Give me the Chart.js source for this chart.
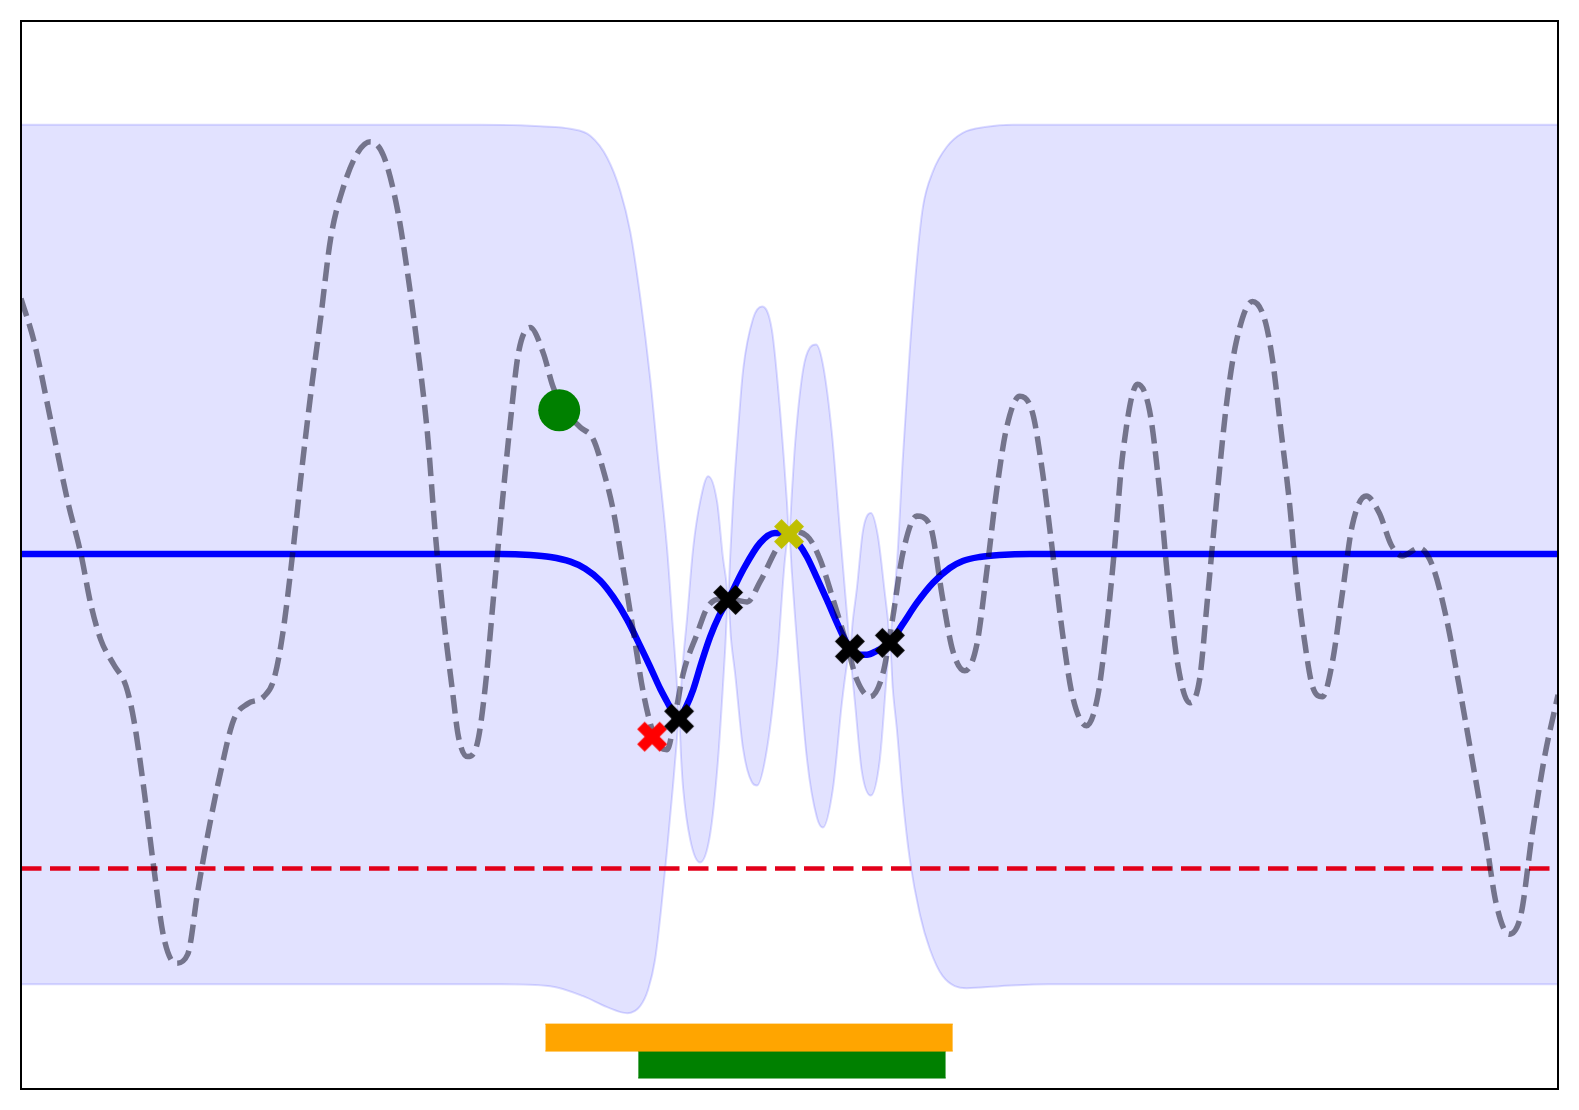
<!DOCTYPE html>
<html>
<head>
<meta charset="utf-8">
<script src="https://cdn.jsdelivr.net/npm/chart.js@4.4.1/dist/chart.umd.min.js"></script>
<style>
html,body{margin:0;padding:0;background:#fff;}
canvas{display:block;}
</style>
</head>
<body>
<canvas id="c" width="1579" height="1110"></canvas>
<script>
// ---------- data ----------
const xRange = [0, 10.26];
const yRange = [-5.36, 5.34];

// true (hidden) function, dashed gray
const trueX = [0, 0.087, 0.20, 0.313, 0.40, 0.467, 0.533, 0.62, 0.70, 0.753,
 0.82, 0.887, 0.953, 1.033, 1.113, 1.18, 1.247, 1.333, 1.42, 1.513,
 1.62, 1.687, 1.747, 1.813, 1.867, 1.933, 2.00, 2.067, 2.153, 2.247,
 2.333, 2.42, 2.513, 2.58, 2.647, 2.713, 2.767, 2.82, 2.88, 2.92,
 2.98, 3.047, 3.10, 3.153, 3.213, 3.267, 3.32, 3.40, 3.487, 3.553,
 3.64, 3.733, 3.82, 3.887, 3.953, 4.02, 4.087, 4.153, 4.213, 4.267,
 4.313, 4.367, 4.42, 4.513, 4.58, 4.667, 4.767, 4.847, 4.933, 5.047,
 5.133, 5.247, 5.333, 5.42, 5.513, 5.58, 5.667, 5.753, 5.82, 5.887,
 5.98, 6.067, 6.153, 6.22, 6.30, 6.38, 6.447, 6.513, 6.58, 6.667,
 6.753, 6.82, 6.887, 6.953, 7.02, 7.113, 7.187, 7.247, 7.30, 7.353,
 7.453, 7.533, 7.60, 7.653, 7.72, 7.80, 7.867, 7.92, 7.98, 8.047,
 8.113, 8.22, 8.30, 8.353, 8.413, 8.467, 8.513, 8.567, 8.62, 8.687,
 8.753, 8.82, 8.887, 8.98, 9.067, 9.147, 9.22, 9.333, 9.42, 9.513,
 9.60, 9.687, 9.78, 9.847, 9.933, 10.013, 10.087, 10.167, 10.26];
const trueY = [2.56, 2.13, 1.33, 0.52, 0.00, -0.51, -0.86, -1.11, -1.32, -1.66,
 -2.35, -3.15, -3.84, -4.10, -4.01, -3.38, -2.81, -2.18, -1.66, -1.50,
 -1.43, -1.26, -0.80, 0.00, 0.75, 1.59, 2.36, 3.16, 3.68, 4.02,
 4.13, 3.99, 3.45, 2.82, 2.07, 1.21, 0.18, -0.63, -1.37, -1.83,
 -2.03, -1.89, -1.32, -0.45, 0.52, 1.33, 2.01, 2.27, 2.01, 1.67,
 1.42, 1.27, 1.15, 0.84, 0.44, -0.15, -0.77, -1.38, -1.76, -1.94,
 -1.96, -1.61, -1.20, -0.80, -0.54, -0.45, -0.46, -0.48, -0.28, 0.06,
 0.23, 0.18, -0.05, -0.45, -0.91, -1.26, -1.43, -1.20, -0.63, 0.01,
 0.38, 0.29, -0.45, -0.97, -1.17, -0.91, -0.17, 0.64, 1.27, 1.58,
 1.41, 0.81, 0.01, -0.80, -1.43, -1.72, -1.43, -0.74, 0.06, 0.98,
 1.70, 1.44, 0.64, -0.22, -1.09, -1.49, -1.26, -0.45, 0.52, 1.50,
 2.13, 2.53, 2.36, 1.96, 1.21, 0.52, -0.22, -0.86, -1.32, -1.43,
 -1.09, -0.40, 0.29, 0.58, 0.41, 0.09, -0.02, 0.06, -0.11, -0.63,
 -1.32, -2.06, -2.87, -3.50, -3.81, -3.61, -2.81, -2.06, -1.41];

// posterior mean (blue)
const meanX = [0, 3.20, 3.40, 3.533, 3.667, 3.767, 3.867, 3.953, 4.047, 4.133,
 4.20, 4.267, 4.313, 4.353, 4.393, 4.44, 4.487, 4.54, 4.60, 4.66,
 4.72, 4.82, 4.933, 5.033, 5.127, 5.187, 5.247, 5.313, 5.38, 5.447,
 5.50, 5.533, 5.587, 5.647, 5.713, 5.80, 5.887, 5.98, 6.087, 6.20,
 6.287, 6.40, 6.533, 6.733, 10.26];
const meanY = [0, 0, -0.01, -0.03, -0.077, -0.147, -0.267, -0.43, -0.66, -0.92,
 -1.13, -1.35, -1.48, -1.59, -1.65, -1.53, -1.36, -1.10, -0.83, -0.62,
 -0.46, -0.16, 0.11, 0.21, 0.20, 0.11, -0.03, -0.24, -0.46, -0.69,
 -0.86, -0.95, -1.01, -1.01, -0.97, -0.89, -0.70, -0.49, -0.29, -0.14,
 -0.07, -0.03, -0.01, 0, 0];

// confidence band, upper edge
const upperX = [0, 3.067, 3.333, 3.467, 3.667, 3.80, 3.913, 4.00, 4.067, 4.133,
 4.20, 4.253, 4.313, 4.353, 4.375, 4.393, 4.413, 4.447, 4.487, 4.533,
 4.587, 4.647, 4.687, 4.707, 4.72, 4.733, 4.753, 4.787, 4.82, 4.887,
 4.947, 5.013, 5.067, 5.093, 5.113, 5.127, 5.147, 5.167, 5.22, 5.267,
 5.307, 5.353, 5.413, 5.467, 5.50, 5.52, 5.533, 5.553, 5.58, 5.62,
 5.673, 5.72, 5.767, 5.787, 5.80, 5.82, 5.847, 5.887, 5.933, 5.98,
 6.02, 6.087, 6.18, 6.287, 6.447, 6.62, 10.26];
const upperY = [4.30, 4.30, 4.295, 4.285, 4.26, 4.19, 3.97, 3.64, 3.23, 2.58,
 1.76, 0.95, 0.05, -0.77, -1.21, -1.65, -1.18, -0.63, 0.06, 0.52,
 0.78, 0.52, -0.05, -0.26, -0.46, -0.06, 0.52, 1.24, 1.84, 2.36,
 2.48, 2.24, 1.44, 0.94, 0.52, 0.20, 0.64, 1.10, 1.84, 2.07,
 2.10, 1.90, 1.21, 0.23, -0.36, -0.71, -0.95, -0.66, -0.34, 0.23,
 0.41, 0.18, -0.40, -0.66, -0.89, -0.53, -0.10, 0.97, 2.04, 2.93,
 3.47, 3.83, 4.08, 4.22, 4.28, 4.30, 4.30];

// confidence band, lower edge
const lowerX = [0, 3.20, 3.533, 3.753, 3.913, 4.047, 4.133, 4.187, 4.233, 4.273,
 4.313, 4.353, 4.373, 4.393, 4.407, 4.42, 4.467, 4.533, 4.60, 4.653,
 4.70, 4.72, 4.74, 4.767, 4.82, 4.88, 4.913, 4.98, 5.047, 5.10,
 5.127, 5.147, 5.167, 5.247, 5.313, 5.353, 5.42, 5.48, 5.513, 5.533,
 5.547, 5.567, 5.613, 5.673, 5.733, 5.78, 5.80, 5.82, 5.847, 5.887,
 5.933, 6.00, 6.067, 6.153, 6.313, 6.533, 6.867, 10.26];
const lowerY = [-4.31, -4.31, -4.33, -4.43, -4.54, -4.60, -4.53, -4.36, -4.06, -3.56,
 -2.96, -2.31, -1.96, -1.65, -2.06, -2.35, -2.86, -3.09, -2.81, -2.06,
 -0.97, -0.46, -0.86, -1.20, -1.95, -2.29, -2.32, -1.95, -1.09, -0.05,
 0.20, -0.21, -0.63, -2.06, -2.64, -2.74, -2.35, -1.49, -1.11, -0.95,
 -1.18, -1.49, -2.18, -2.42, -2.06, -1.20, -0.89, -1.36, -1.76, -2.46,
 -3.06, -3.61, -3.96, -4.23, -4.35, -4.33, -4.31, -4.31];

// observations
const obsX = [4.393, 4.72, 5.533, 5.80];
const obsY = [-1.65, -0.46, -0.95, -0.89];
const bestX = [5.127], bestY = [0.20];        // yellow X
const nextX = [4.213], nextY = [-1.83];       // red X
const startX = [3.593], startY = [1.44];      // green dot
const thresholdY = -3.15;                     // red dashed line

// bottom intervals
const barStart  = [3.50, 4.12];
const barEnd    = [6.22, 6.173];
const barTop    = [-4.71, -4.98];
const barBottom = [-4.98, -5.25];

// ---------- helpers ----------
const zip = (xs, ys) => xs.map((x, i) => ({x: x, y: ys[i]}));

function xMarker(color) {
  const size = 32, h = 15;
  const a = h * Math.SQRT2 * 0.75, b = a / 3;
  const c = document.createElement('canvas');
  c.width = c.height = size;
  const g = c.getContext('2d');
  g.translate(size / 2, size / 2);
  g.rotate(Math.PI / 4);
  g.beginPath();
  const pts = [[-b,-a],[b,-a],[b,-b],[a,-b],[a,b],[b,b],[b,a],[-b,a],[-b,b],[-a,b],[-a,-b],[-b,-b]];
  pts.forEach((p, i) => i ? g.lineTo(p[0], p[1]) : g.moveTo(p[0], p[1]));
  g.closePath();
  g.fillStyle = color;
  g.fill();
  return c;
}

const barColors = ['#ffa500', '#008000'];
const barSets = [];
barStart.forEach((s, i) => {
  barSets.push({
    data: zip([s, barEnd[i]], [barTop[i], barTop[i]]),
    borderColor: barColors[i], borderWidth: 1, backgroundColor: barColors[i],
    pointRadius: 0, fill: '+1', order: 5
  });
  barSets.push({
    data: zip([s, barEnd[i]], [barBottom[i], barBottom[i]]),
    borderColor: barColors[i], borderWidth: 1,
    pointRadius: 0, fill: false, order: 5
  });
});

const datasets = [
  { // band upper
    data: zip(upperX, upperY), borderColor: 'rgba(0,0,255,0.14)', borderWidth: 2,
    backgroundColor: 'rgba(0,0,255,0.113)', fill: '+1', pointRadius: 0,
    cubicInterpolationMode: 'monotone', order: 9
  },
  { // band lower
    data: zip(lowerX, lowerY), borderColor: 'rgba(0,0,255,0.14)', borderWidth: 2,
    fill: false, pointRadius: 0, cubicInterpolationMode: 'monotone', order: 9
  },
  ...barSets,
  { // mean
    data: zip(meanX, meanY), borderColor: '#0000ff', borderWidth: 6.5,
    fill: false, pointRadius: 0, cubicInterpolationMode: 'monotone', order: 4
  },
  { // threshold
    data: zip(xRange, [thresholdY, thresholdY]), borderColor: '#e2001a', borderWidth: 4.5,
    borderDash: [20.5, 8.5], fill: false, pointRadius: 0, order: 3
  },
  { // true function
    data: zip(trueX, trueY), borderColor: 'rgba(6,6,25,0.5)', borderWidth: 5.5,
    borderDash: [18.5, 8], fill: false, pointRadius: 0,
    cubicInterpolationMode: 'monotone', order: 2
  },
  { // start dot
    data: zip(startX, startY), showLine: false, pointStyle: 'circle',
    pointRadius: 21, pointBackgroundColor: '#008000', pointBorderWidth: 0, order: 1
  },
  { // observations
    data: zip(obsX, obsY), showLine: false, pointStyle: xMarker('#000000'),
    pointRadius: 15, order: 0
  },
  {
    data: zip(nextX, nextY), showLine: false, pointStyle: xMarker('#ff0000'),
    pointRadius: 15, order: 0
  },
  {
    data: zip(bestX, bestY), showLine: false, pointStyle: xMarker('#bfbf00'),
    pointRadius: 15, order: 0
  }
];

const framePlugin = {
  id: 'frame',
  afterDraw(chart) {
    const a = chart.chartArea, ctx = chart.ctx;
    ctx.save();
    ctx.strokeStyle = '#000';
    ctx.lineWidth = 2;
    ctx.strokeRect(a.left, a.top, a.right - a.left, a.bottom - a.top);
    ctx.restore();
  }
};

new Chart(document.getElementById('c'), {
  type: 'line',
  data: { datasets: datasets },
  options: {
    responsive: false,
    animation: false,
    events: [],
    devicePixelRatio: 1,
    layout: { padding: { left: 20, top: 20, right: 20, bottom: 20 } },
    plugins: { legend: { display: false }, tooltip: { enabled: false } },
    scales: {
      x: { type: 'linear', min: xRange[0], max: xRange[1], display: false },
      y: { type: 'linear', min: yRange[0], max: yRange[1], display: false }
    }
  },
  plugins: [framePlugin]
});
</script>
</body>
</html>
